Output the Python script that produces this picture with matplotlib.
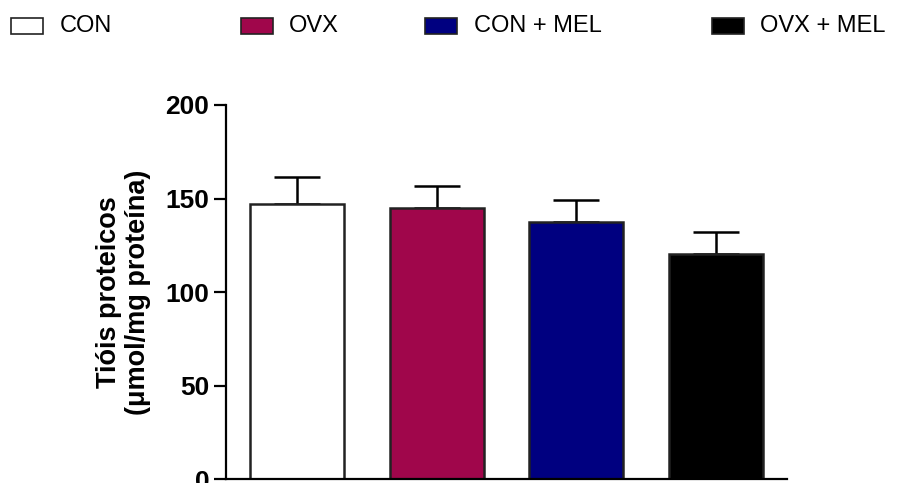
import matplotlib
matplotlib.use("Agg")
import matplotlib.pyplot as plt
from matplotlib.patches import Rectangle

groups = ["CON", "OVX", "CON + MEL", "OVX + MEL"]
means = [147.0, 145.2, 137.7, 120.3]
errors = [14.3, 11.6, 11.6, 11.8]
colors = ["#ffffff", "#a0064b", "#000080", "#000000"]
yticks = [0, 50, 100, 150, 200]

plt.rcParams["font.family"] = ["Liberation Sans", "DejaVu Sans"]

fig = plt.figure(figsize=(8.98, 4.83), dpi=100)
ax = fig.add_axes([0.2517, 0.0077, 0.6244, 0.775])

x = list(range(len(groups)))
ax.bar(x, means, width=0.673, color=colors, edgecolor="#222222", linewidth=1.8, zorder=2)
ax.errorbar(x, means, yerr=[[0] * len(errors), errors], fmt="none", ecolor="black",
            elinewidth=1.8, capsize=16.5, capthick=1.8, zorder=1)

ax.set_xlim(-0.51, 3.51)
ax.set_ylim(0, 200)
ax.set_yticks(yticks)
ax.set_yticklabels([str(t) for t in yticks], fontsize=19, fontweight="bold")
ax.set_xticks([])
for s in ["top", "right"]:
    ax.spines[s].set_visible(False)
for s in ["left", "bottom"]:
    ax.spines[s].set_linewidth(1.6)
ax.tick_params(axis="y", direction="out", length=9, width=1.6, pad=3)
ax.set_ylabel("Tióis proteicos\n(μmol/mg proteína)", fontsize=19.5, fontweight="bold",
              linespacing=1.15)
ax.yaxis.label.set_va("center")
ax.yaxis.set_label_coords(-0.183, 0.5)

# legend row
sq_x = [11, 241, 425, 712]
txt_x = [60, 289, 474, 760]
for g, c, sx, tx in zip(groups, colors, sq_x, txt_x):
    fig.patches.append(Rectangle((sx / 898, 1 - 34 / 483), 32 / 898, 16 / 483,
                                 transform=fig.transFigure, facecolor=c,
                                 edgecolor="#222222", linewidth=1.2))
    fig.text(tx / 898, 1 - 26 / 483, g, fontsize=17, va="center", ha="left")

fig.savefig("out.png", dpi=100)
